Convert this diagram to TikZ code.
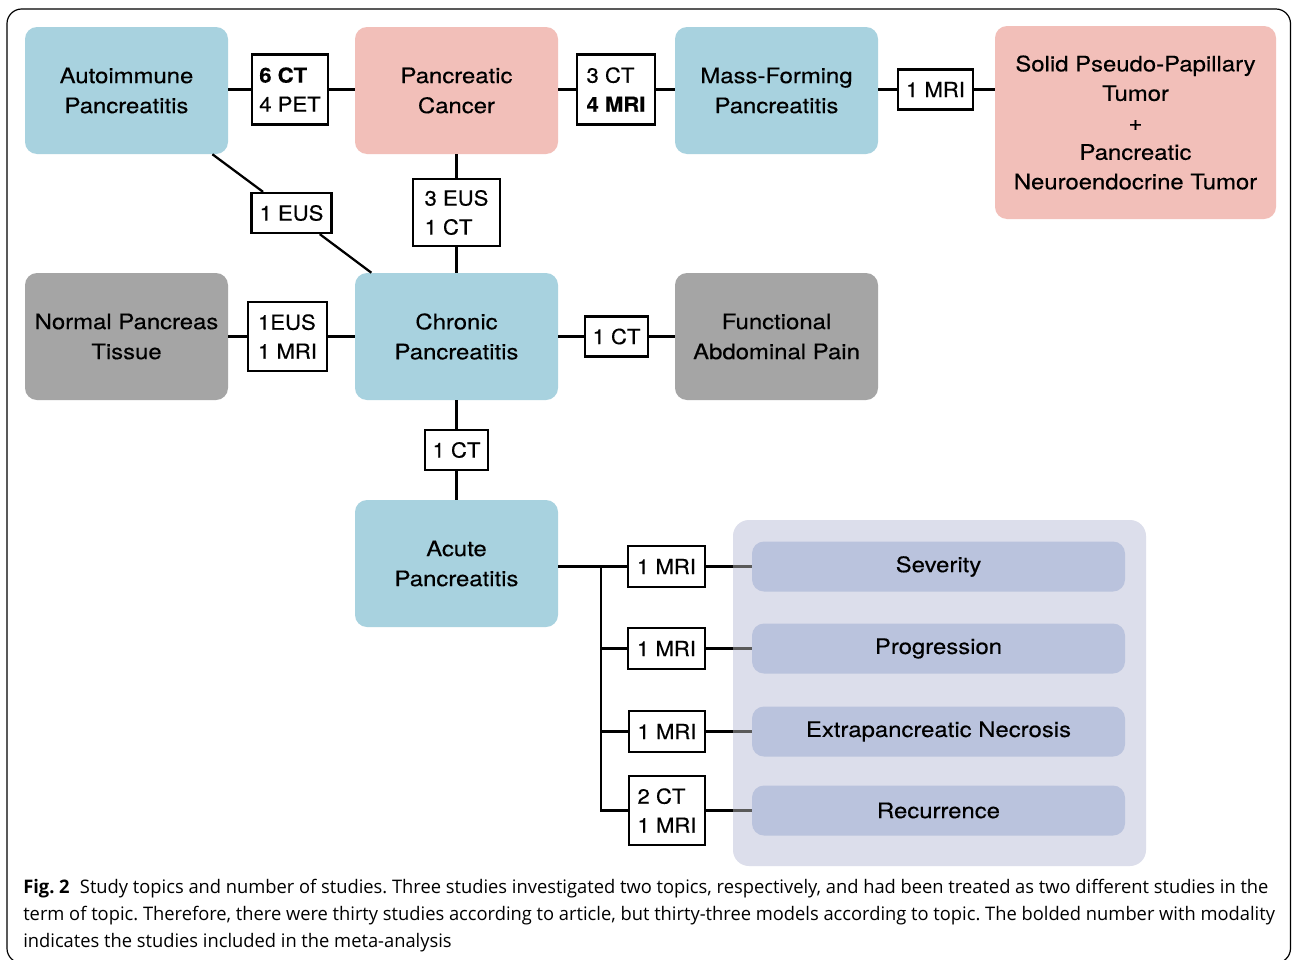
\documentclass[tikz,border=0pt]{standalone}
\usepackage{fontspec}
\setmainfont{TeX Gyre Heros}[FakeStretch=1.12,FakeBold=0.3]
\newfontfamily\lblfont{TeX Gyre Heros}[FakeStretch=1.07,FakeBold=0.3]
\newfontfamily\capfont{Open Sans}[FakeStretch=0.981]
\definecolor{topicblue}{HTML}{A8D2DF}
\definecolor{topicpink}{HTML}{F2BFB9}
\definecolor{topicgray}{HTML}{A5A5A5}
\definecolor{panelcol}{HTML}{DCDEEB}
\definecolor{subcol}{HTML}{BAC3DD}
\definecolor{innerline}{HTML}{5A5A5A}
\frenchspacing
\begin{document}
\begin{tikzpicture}[x=0.75pt,y=-0.75pt,
  topic/.style={rounded corners=9pt, minimum width=152.25pt, minimum height=95.25pt, inner sep=0pt, align=center, font=\fontsize{16}{22.5}\selectfont},
  lbl/.style={draw, line width=1.7pt, fill=white, inner sep=0pt, align=left, font=\lblfont\fontsize{15.5}{21.75}\selectfont},
  subtopic/.style={fill=subcol, rounded corners=9pt, minimum width=279.75pt, minimum height=37.5pt, inner sep=0pt, font=\fontsize{16}{21}\selectfont},
  conn/.style={line width=1.7pt},
  capline/.style={anchor=base west, inner sep=0pt, font=\capfont\fontsize{14}{20}\selectfont}
]
\fill[white] (0,0) rectangle (1292,960);
\useasboundingbox (0,0) rectangle (1292,960);
\draw[line width=0.9pt, rounded corners=11pt] (7,9) rectangle (1290.5,963);

% topics
\node[topic, fill=topicblue] (aip) at (126.5,90.5) {Autoimmune\\Pancreatitis};
\node[topic, fill=topicpink] (pc) at (456.5,90.5) {Pancreatic\\Cancer};
\node[topic, fill=topicblue] (mfp) at (776.5,90.5) {Mass-Forming\\Pancreatitis};
\node[topic, fill=topicpink, minimum width=210.75pt, minimum height=144.75pt, font=\fontsize{16}{22.1}\selectfont] (spt) at (1135.5,122.5) {Solid Pseudo-Papillary\\Tumor\\+\\Pancreatic\\Neuroendocrine Tumor};
\node[topic, fill=topicgray] (npt) at (126.5,336.5) {Normal Pancreas\\Tissue};
\node[topic, fill=topicblue] (cp) at (456.5,336.5) {Chronic\\Pancreatitis};
\node[topic, fill=topicgray] (fap) at (776.5,336.5) {Functional\\Abdominal Pain};
\node[topic, fill=topicblue] (ap) at (456.5,563.5) {Acute\\Pancreatitis};

% panel and sub topics
\node[fill=panelcol, rounded corners=12pt, minimum width=309.75pt, minimum height=259.5pt, inner sep=0pt] (panel) at (939.5,693) {};
\node[subtopic] (sev) at (938.5,566.5) {Severity};
\node[subtopic] (prog) at (938.5,648.5) {Progression};
\node[subtopic] (necr) at (938.5,731.5) {Extrapancreatic Necrosis};
\node[subtopic] (recur) at (938.5,810.5) {Recurrence};

% label boxes
\node[lbl, minimum width=57pt, minimum height=52.5pt] (l1) at (290,89.5) {\textbf{6 CT}\\4 PET};
\node[lbl, minimum width=58.5pt, minimum height=52.5pt] (l2) at (616,89.5) {3 CT\\\textbf{4 MRI}};
\node[lbl, minimum width=56.25pt, minimum height=30pt] (l3) at (935.5,89.5) {1 MRI};
\node[lbl, minimum width=60pt, minimum height=30pt] (l4) at (291.5,213) {1 EUS};
\node[lbl, minimum width=65.25pt, minimum height=50.25pt] (l5) at (456.5,212.5) {3 EUS\\1 CT};
\node[lbl, minimum width=59.25pt, minimum height=51.75pt] (l6) at (287.5,336.5) {1EUS\\1 MRI};
\node[lbl, minimum width=47.25pt, minimum height=30pt] (l7) at (616.5,336.5) {1 CT};
\node[lbl, minimum width=47.25pt, minimum height=30pt] (l8) at (456.5,450) {1 CT};
\node[lbl, minimum width=57.75pt, minimum height=30.75pt] (m1) at (666.5,566.5) {1 MRI};
\node[lbl, minimum width=57.75pt, minimum height=30.75pt] (m2) at (666.5,648.5) {1 MRI};
\node[lbl, minimum width=57pt, minimum height=30.75pt] (m3) at (667,731.5) {1 MRI};
\node[lbl, minimum width=57pt, minimum height=51.75pt] (m4) at (667,810.5) {2 CT\\1 MRI};

% connectors
\draw[conn] (aip.east |- l1.west) -- (l1.west);
\draw[conn] (l1.east) -- (pc.west |- l1.east);
\draw[conn] (pc.east |- l2.west) -- (l2.west);
\draw[conn] (l2.east) -- (mfp.west |- l2.east);
\draw[conn] (mfp.east |- l3.west) -- (l3.west);
\draw[conn] (l3.east) -- (spt.west |- l3.east);
\draw[conn] (pc.south) -- (l5.north);
\draw[conn] (l5.south) -- (cp.north);
\draw[conn] (aip) -- (l4);
\draw[conn] (l4) -- (cp);
\draw[conn] (npt.east) -- (l6.west);
\draw[conn] (l6.east) -- (cp.west);
\draw[conn] (cp.east) -- (l7.west);
\draw[conn] (l7.east) -- (fap.west);
\draw[conn] (cp.south) -- (l8.north);
\draw[conn] (l8.south) -- (ap.north);
\coordinate (trunk) at (601,566.5);
\draw[conn] (ap.east |- m1.west) -- (m1.west);
\draw[conn] (trunk) |- (m2.west);
\draw[conn] (trunk) |- (m3.west);
\draw[conn] (trunk) |- (m4.west);
\foreach \m/\s in {m1/sev, m2/prog, m3/necr, m4/recur}{
  \draw[conn] (\m.east) -- (panel.west |- \m.east);
  \draw[conn, innerline] (panel.west |- \m.east) -- (\s.west |- \m.east);
}

% caption
\node[capline] (cap1) at (23,893) {\textbf{Fig. 2}\hspace{0.55em}Study topics and number of studies. Three studies investigated two topics, respectively, and had been treated as two different studies in the};
\node[capline] (cap2) at (23,920) {term of topic. Therefore, there were thirty studies according to article, but thirty-three models according to topic. The bolded number with modality};
\node[capline] (cap3) at (23,947) {indicates the studies included in the meta-analysis};
\end{tikzpicture}
\end{document}
